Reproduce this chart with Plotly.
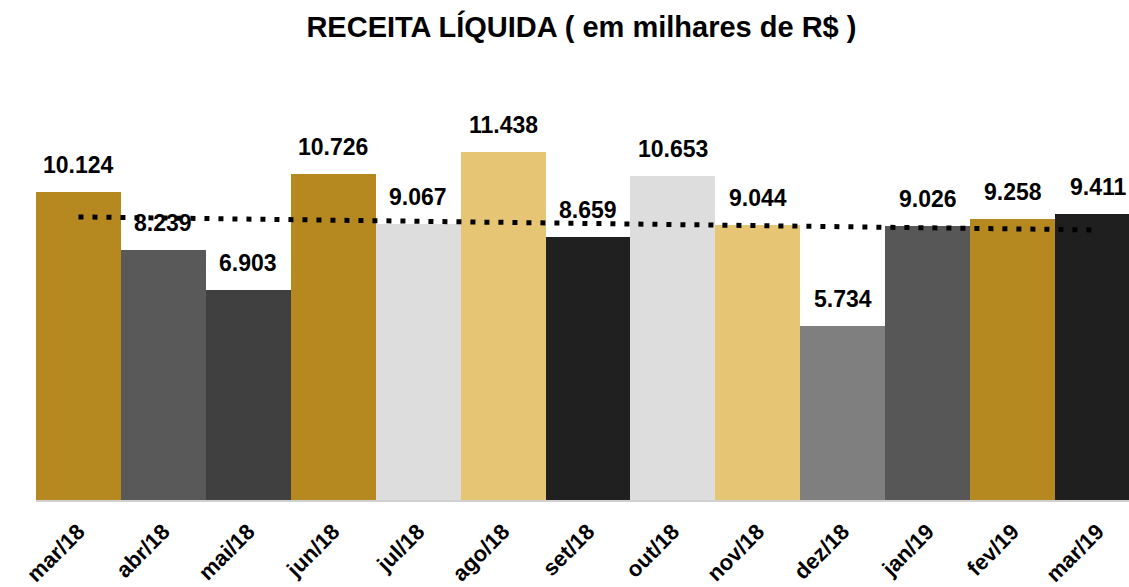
import numpy as np
import plotly.graph_objects as go

months = ["mar/18", "abr/18", "mai/18", "jun/18", "jul/18", "ago/18", "set/18",
          "out/18", "nov/18", "dez/18", "jan/19", "fev/19", "mar/19"]
values = [10.124, 8.239, 6.903, 10.726, 9.067, 11.438, 8.659,
          10.653, 9.044, 5.734, 9.026, 9.258, 9.411]
labels = ["10.124", "8.239", "6.903", "10.726", "9.067", "11.438", "8.659",
          "10.653", "9.044", "5.734", "9.026", "9.258", "9.411"]
bar_colors = ["#B5891F", "#595959", "#404040", "#B5891F", "#DDDDDD", "#E6C574", "#202020",
              "#DDDDDD", "#E6C574", "#7F7F7F", "#575757", "#B5891F", "#1F1F1F"]

FONT = "Arial, Liberation Sans, sans-serif"

idx = np.arange(len(values))
slope, intercept = np.polyfit(idx, values, 1)
trend = slope * idx + intercept

fig = go.Figure()
fig.add_trace(go.Bar(x=idx, y=values, marker=dict(color=bar_colors, line=dict(width=0)),
                     width=1.0, hoverinfo="skip"))
fig.add_trace(go.Scatter(x=idx, y=trend, mode="lines",
                         line=dict(color="black", width=5, dash="5px,9px"),
                         hoverinfo="skip"))

for i, (v, t) in enumerate(zip(values, labels)):
    fig.add_annotation(x=i, y=v, text="<b>%s</b>" % t, showarrow=False,
                       yanchor="bottom", yshift=12,
                       font=dict(family=FONT, size=23, color="black"))

fig.update_layout(
    width=1129, height=587,
    margin=dict(l=36, r=0, t=100, b=87),
    paper_bgcolor="white", plot_bgcolor="white",
    showlegend=False,
    bargap=0,
    title=dict(text="<b>RECEITA LÍQUIDA ( em milhares de R$ )</b>",
               x=0.515, xanchor="center", y=0.955, yanchor="middle",
               font=dict(family=FONT, size=29, color="black")),
    xaxis=dict(tickmode="array", tickvals=list(idx),
               ticktext=["<b>%s</b>" % m for m in months],
               tickangle=-45, range=[-0.5, 12.37],
               showline=True, linecolor="#D0D0D0", linewidth=2,
               showgrid=False, zeroline=False, ticks="",
               ticklabelstandoff=8,
               tickfont=dict(family=FONT, size=22, color="black")),
    yaxis=dict(range=[0, 13.16], visible=False, showgrid=False, zeroline=False),
)

fig.write_html("out.html", config={"displayModeBar": False},
               post_script="document.body.style.margin='0px';document.body.style.overflow='hidden';")
